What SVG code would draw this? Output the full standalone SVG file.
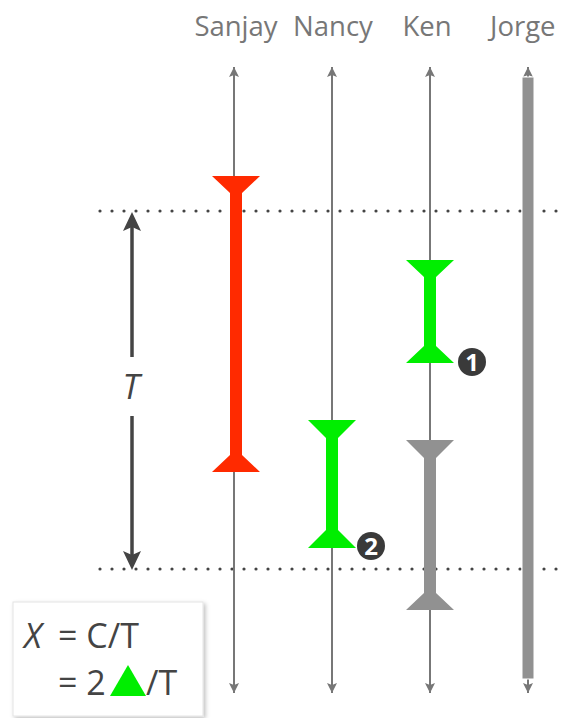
<svg xmlns="http://www.w3.org/2000/svg" width="564" height="718" viewBox="0 0 564 718">
  <style>
    .lbl { font-family: "Open Sans", "Noto Sans", sans-serif; font-size: 27.5px; fill: #777; text-anchor: middle; }
    .life { stroke: #777; stroke-width: 2; fill: none; marker-start: url(#tipUp); marker-end: url(#tipDown); }
    .dots { stroke: #444; stroke-width: 3.2; stroke-linecap: round; stroke-dasharray: 0 12; fill: none; }
    .math { font-family: "Open Sans", "Noto Sans", sans-serif; font-size: 34px; fill: #444; }
    .badge { fill: #3a3a3a; }
    .badgeTxt { font-family: "Open Sans", "Noto Sans", sans-serif; font-size: 24px; font-weight: bold; fill: #fff; text-anchor: middle; }
  </style>
  <defs>
    <marker id="tipUp" markerUnits="userSpaceOnUse" markerWidth="12" markerHeight="12" refX="5" refY="0" orient="0" overflow="visible">
      <polygon points="5,0 10,10 5,8 0,10" fill="#777"/>
    </marker>
    <marker id="tipDown" markerUnits="userSpaceOnUse" markerWidth="12" markerHeight="12" refX="5" refY="0" orient="0" overflow="visible">
      <polygon points="5,0 10,-10 5,-8 0,-10" fill="#777"/>
    </marker>
    <filter id="shadow" x="-10%" y="-10%" width="125%" height="125%">
      <feDropShadow dx="2" dy="2" stdDeviation="2" flood-color="#000" flood-opacity="0.25"/>
    </filter>
  </defs>

  <!-- participant names -->
  <g id="names">
    <text class="lbl" x="236" y="36">Sanjay</text>
    <text class="lbl" x="333" y="36">Nancy</text>
    <text class="lbl" x="427" y="36">Ken</text>
    <text class="lbl" x="490" y="36" style="text-anchor:start">Jorge</text>
  </g>

  <!-- time window boundaries -->
  <g id="window">
    <line class="dots" x1="100" y1="211" x2="570" y2="211"/>
    <line class="dots" x1="100" y1="569" x2="570" y2="569"/>
  </g>

  <!-- lifelines -->
  <g id="connectors">
    <line class="life" x1="234" y1="67" x2="234" y2="693"/>
    <line class="life" x1="332" y1="67" x2="332" y2="693"/>
    <line class="life" x1="430" y1="67" x2="430" y2="693"/>
    <line class="life" x1="528" y1="67" x2="528" y2="693"/>
  </g>

  <!-- Jorge: busy the whole time -->
  <g id="jorge">
    <rect x="522" y="77" width="12" height="602" fill="#919191" stroke="#fff" stroke-width="1"/>
  </g>

  <!-- Sanjay: long request -->
  <g id="sanjay">
    <polygon fill="#ff2a00" points="212,176 260,176 242,193 242,455 260,472 212,472 230,455 230,193"/>
  </g>

  <!-- Nancy: completed request 2 -->
  <g id="nancy">
    <polygon fill="#00ee00" points="308,420 356,420 338,438 338,530 356,548 308,548 326,530 326,438"/>
    <circle class="badge" cx="371" cy="546" r="14"/>
    <text class="badgeTxt" x="371" y="554.5">2</text>
  </g>

  <!-- Ken: completed request 1 and a trailing request -->
  <g id="ken">
    <polygon fill="#00ee00" points="406,260 454,260 436,277 436,346 454,363 406,363 424,346 424,277"/>
    <circle class="badge" cx="472" cy="362" r="14"/>
    <text class="badgeTxt" x="472" y="370.5">1</text>
    <polygon fill="#919191" points="406,440 454,440 436,458 436,593 454,610 406,610 424,593 424,458"/>
  </g>

  <!-- window length T -->
  <g id="period">
    <line x1="132" y1="226" x2="132" y2="357" stroke="#444" stroke-width="3.5"/>
    <line x1="132" y1="416" x2="132" y2="556" stroke="#444" stroke-width="3.5"/>
    <polygon fill="#444" points="132,212 141,231 132,227 123,231"/>
    <polygon fill="#444" points="132,570 141,551 132,555 123,551"/>
    <text class="math" x="131" y="399" font-style="italic" text-anchor="middle">T</text>
  </g>

  <!-- throughput formula -->
  <g id="formula">
    <rect x="13" y="602" width="190" height="114" fill="#fff" stroke="#e4e4e4" stroke-width="1" filter="url(#shadow)"/>
    <text class="math" x="24" y="648" font-style="italic">X</text>
    <text class="math" x="58" y="648">= C/T</text>
    <text class="math" x="58" y="695">= 2</text>
    <polygon fill="#00ee00" points="128,665 146,696 110,696"/>
    <text class="math" x="146" y="695">/T</text>
  </g>
</svg>
